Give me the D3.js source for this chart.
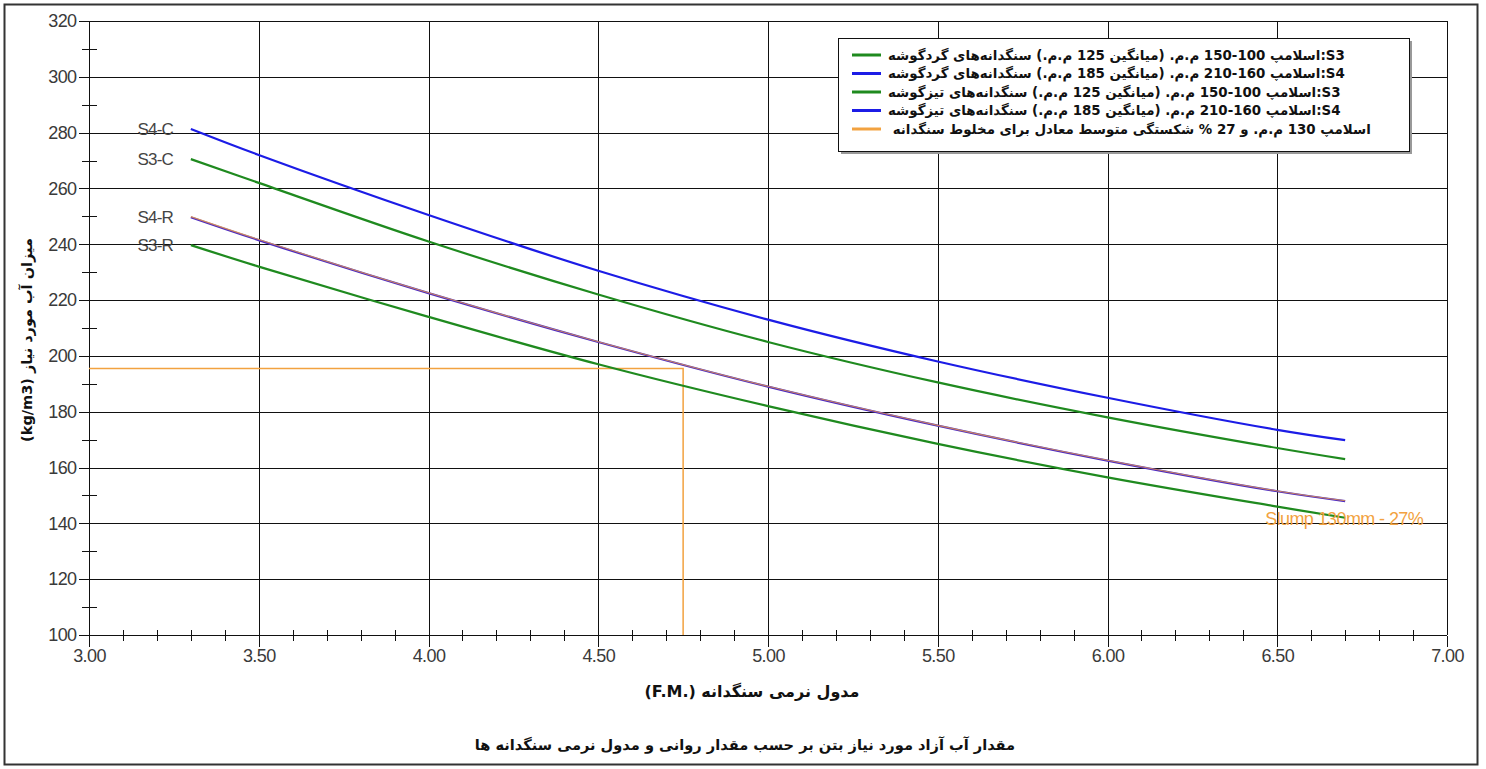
<!DOCTYPE html>
<html>
<head>
<meta charset="utf-8">
<script src="https://cdn.jsdelivr.net/npm/d3@7"></script>
<style>
  body { margin: 0; background: #fff; }
  svg text { font-family: "Liberation Sans", Arial, sans-serif; }
  .fa { font-family: "DejaVu Sans", Tahoma, sans-serif; font-weight: bold; white-space: pre; }
</style>
</head>
<body>
<svg id="chart"></svg>
<script>
// fineness modulus points where each curve was read
var fm = [3.3, 3.5, 4.0, 4.5, 5.0, 5.5, 6.0, 6.5, 6.7];

// water demand (kg/m3)
var s3Rounded = [239.7, 232, 214, 197, 182, 168.5, 156.5, 146, 142];
var s4Rounded = [249.7, 241.5, 222.5, 205, 189, 175, 162.5, 151.5, 148];
var s3Crushed = [270.5, 262, 241, 222, 205, 190.5, 178, 167, 163];
var s4Crushed = [281.3, 272, 250.5, 230.5, 213, 198, 185, 173.5, 169.8];
var slump130 = [249.9, 241.7, 222.6, 205.1, 189.1, 175.1, 162.6, 151.6, 148.1];

// reading for the mix (F.M. 4.75)
var pickFM = 4.75;
var pickWater = 195.5;

var xTicks = [3.0, 3.5, 4.0, 4.5, 5.0, 5.5, 6.0, 6.5, 7.0];
var yTicks = [100, 120, 140, 160, 180, 200, 220, 240, 260, 280, 300, 320];

var legendLabels = [
  "S3:اسلامپ 100-150 م.م. (میانگین 125 م.م.) سنگدانه‌های گردگوشه",
  "S4:اسلامپ 160-210 م.م. (میانگین 185 م.م.) سنگدانه‌های گردگوشه",
  "S3:اسلامپ 100-150 م.م. (میانگین 125 م.م.) سنگدانه‌های تیزگوشه",
  "S4:اسلامپ 160-210 م.م. (میانگین 185 م.م.) سنگدانه‌های تیزگوشه",
  "اسلامپ 130 م.م. و 27 % شکستگی متوسط معادل برای مخلوط سنگدانه "
];
var curveNames = ["S4-C", "S3-C", "S4-R", "S3-R"];

var green = "#1f8a1f", blue = "#1c1ce6", purple = "#4a28c4", orange = "#f2a240";

var width = 1486, height = 769;
var svg = d3.select("#chart").attr("width", width).attr("height", height);

// outer frame
svg.append("rect")
  .attr("x", 4.5).attr("y", 4.5)
  .attr("width", 1473).attr("height", 760)
  .attr("fill", "none").attr("stroke", "#333").attr("stroke-width", 2);

var x = d3.scaleLinear().domain([3, 7]).range([89, 1447]);
var y = d3.scaleLinear().domain([100, 320]).range([635, 21]);

// grid
var grid = svg.append("g").attr("stroke", "#111").attr("stroke-width", 1).attr("shape-rendering", "crispEdges");
grid.selectAll(".gx").data(xTicks).enter().append("line")
  .attr("x1", function(d) { return Math.round(x(d)) + 0.5; })
  .attr("x2", function(d) { return Math.round(x(d)) + 0.5; })
  .attr("y1", y(320)).attr("y2", y(100));
grid.selectAll(".gy").data(yTicks).enter().append("line")
  .attr("y1", function(d) { return Math.round(y(d)) + 0.5; })
  .attr("y2", function(d) { return Math.round(y(d)) + 0.5; })
  .attr("x1", x(3)).attr("x2", x(7));

// axes
var xAxis = svg.append("g")
  .attr("transform", "translate(0," + (Math.round(y(100)) + 0.5) + ")")
  .call(d3.axisBottom(x).tickValues(xTicks).tickSize(11).tickFormat(d3.format(".2f")));
var yAxis = svg.append("g")
  .attr("transform", "translate(" + (Math.round(x(3)) + 0.5) + ",0)")
  .call(d3.axisLeft(y).tickValues(yTicks).tickSize(11).tickFormat(d3.format("d")));
[xAxis, yAxis].forEach(function(a) {
  a.select(".domain").remove();
  a.selectAll(".tick line").attr("stroke", "#111").attr("shape-rendering", "crispEdges");
  a.selectAll(".tick text").attr("font-size", 18).attr("fill", "#3a3a3a")
    .attr("font-family", "Liberation Sans, Arial, sans-serif").attr("letter-spacing", -0.6);
});
xAxis.selectAll(".tick text").attr("dy", "1.0em").attr("y", 8);
yAxis.selectAll(".tick text").attr("x", -13);

// minor ticks
var xMinor = d3.range(30, 70).map(function(d) { return d / 10; }).filter(function(d) { return Math.abs(d * 2 - Math.round(d * 2)) > 1e-6; });
svg.append("g").selectAll("line").data(xMinor).enter().append("line")
  .attr("x1", function(d) { return Math.round(x(d)) + 0.5; })
  .attr("x2", function(d) { return Math.round(x(d)) + 0.5; })
  .attr("y1", y(100) - 5).attr("y2", y(100) + 6)
  .attr("stroke", "#111").attr("shape-rendering", "crispEdges");
var yMinor = d3.range(110, 320, 20);
svg.append("g").selectAll("line").data(yMinor).enter().append("line")
  .attr("y1", function(d) { return Math.round(y(d)) + 0.5; })
  .attr("y2", function(d) { return Math.round(y(d)) + 0.5; })
  .attr("x1", x(3) - 7).attr("x2", x(3) + 8)
  .attr("stroke", "#111").attr("shape-rendering", "crispEdges");

// mix reading lines
svg.append("path")
  .attr("d", "M" + x(3) + "," + y(pickWater) + "H" + x(pickFM) + "V" + y(100))
  .attr("fill", "none").attr("stroke", orange).attr("stroke-width", 1.5);

// curves
var line = d3.line()
  .x(function(d, i) { return x(fm[i]); })
  .y(function(d) { return y(d); })
  .curve(d3.curveCatmullRom.alpha(0.5));

var series = [
  {v: s3Crushed, c: green, w: 2.2},
  {v: s4Crushed, c: blue, w: 2.2},
  {v: s3Rounded, c: green, w: 2.2},
  {v: s4Rounded, c: purple, w: 2.2},
  {v: slump130, c: orange, w: 1.1, o: 0.75}
];
svg.append("g").selectAll("path").data(series).enter().append("path")
  .attr("d", function(d) { return line(d.v); })
  .attr("fill", "none")
  .attr("stroke", function(d) { return d.c; })
  .attr("stroke-width", function(d) { return d.w; })
  .attr("stroke-opacity", function(d) { return d.o || 1; });

// curve names at left end
var starts = [s4Crushed[0], s3Crushed[0], s4Rounded[0], s3Rounded[0]];
svg.append("g").selectAll("text").data(curveNames).enter().append("text")
  .attr("x", 173)
  .attr("y", function(d, i) { return y(starts[i]); })
  .attr("dy", "0.35em")
  .attr("text-anchor", "end")
  .attr("font-size", 17).attr("letter-spacing", -0.8)
  .attr("fill", "#444")
  .text(function(d) { return d; });

svg.append("text")
  .attr("x", x(6.5) - 12).attr("y", y(slump130[8]) + 24)
  .attr("font-size", 18).attr("letter-spacing", -0.6)
  .attr("fill", orange)
  .text("Slump 130mm - 27%");

// legend
var lg = svg.append("g");
lg.append("rect").attr("x", 841).attr("y", 41).attr("width", 571).attr("height", 113).attr("fill", "#999");
lg.append("rect").attr("x", 838.5).attr("y", 38.5).attr("width", 571).attr("height", 113)
  .attr("fill", "#fff").attr("stroke", "#111");
var lgColors = [green, blue, green, blue, orange];
var rows = lg.selectAll(".row").data(legendLabels).enter().append("g")
  .attr("transform", function(d, i) { return "translate(0," + (55 + i * 18.5) + ")"; });
rows.append("line").attr("x1", 852).attr("x2", 881)
  .attr("stroke", function(d, i) { return lgColors[i]; }).attr("stroke-width", 3);
rows.append("text").attr("class", "fa")
  .attr("dy", "0.35em")
  .attr("direction", "rtl").attr("text-anchor", "start")
  .attr("font-size", 13.4).attr("fill", "#111")
  .text(function(d) { return d; })
  .attr("x", function() { return 888 + this.getComputedTextLength(); });

// axis titles
svg.append("text").attr("class", "fa")
  .attr("x", 752).attr("y", 691).attr("dy", "0.35em")
  .attr("direction", "rtl").attr("text-anchor", "middle")
  .attr("font-size", 16).attr("fill", "#111")
  .text("مدول نرمی سنگدانه (F.M.\u200E)");

svg.append("text").attr("class", "fa")
  .attr("transform", "translate(27,340) rotate(-90)")
  .attr("dy", "0.35em")
  .attr("direction", "rtl").attr("text-anchor", "middle")
  .attr("font-size", 14.5).attr("fill", "#111")
  .text("میزان آب مورد نیاز (kg/m3)");

svg.append("text").attr("class", "fa")
  .attr("x", 745).attr("y", 745).attr("dy", "0.35em")
  .attr("direction", "rtl").attr("text-anchor", "middle")
  .attr("font-size", 14.6).attr("fill", "#111")
  .text("مقدار آب آزاد مورد نیاز بتن بر حسب مقدار روانی و مدول نرمی سنگدانه ها");
</script>
</body>
</html>
